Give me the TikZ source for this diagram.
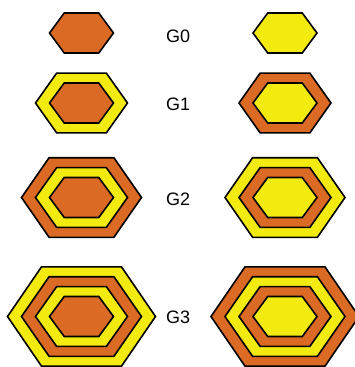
\documentclass[tikz,border=0pt]{standalone}
\usepackage{fontspec}
\setmainfont{Liberation Sans}
\definecolor{hexorange}{HTML}{DA6A24}
\definecolor{hexyellow}{HTML}{F3EB10}
\tikzset{
  hexline/.style={draw=black, line width=1.6pt, line join=miter},
  lab/.style={anchor=west, inner sep=0pt, font=\fontsize{18}{18}\selectfont}
}
\newcommand\hexring[4]{%
  \pgfmathsetmacro\hw{32+14*#3}%
  \pgfmathsetmacro\hh{20+9.9*#3}%
  \pgfmathsetmacro\ha{0.54*\hw}%
  \filldraw[fill=#4, hexline] (#1-\hw,#2) -- (#1-\ha,#2-\hh) -- (#1+\ha,#2-\hh)
    -- (#1+\hw,#2) -- (#1+\ha,#2+\hh) -- (#1-\ha,#2+\hh) -- cycle;
}
\begin{document}
\begin{tikzpicture}[x=1pt, y=-1pt]
\useasboundingbox (0,0) rectangle (354,367);
% G0
\hexring{81.5}{33}{0}{hexorange}
\hexring{285}{33}{0}{hexyellow}
% G1
\hexring{81.5}{103}{1}{hexyellow}
\hexring{81.5}{103}{0}{hexorange}
\hexring{285}{103}{1}{hexorange}
\hexring{285}{103}{0}{hexyellow}
% G2
\hexring{81.5}{197.5}{2}{hexorange}
\hexring{81.5}{197.5}{1}{hexyellow}
\hexring{81.5}{197.5}{0}{hexorange}
\hexring{285}{197.5}{2}{hexyellow}
\hexring{285}{197.5}{1}{hexorange}
\hexring{285}{197.5}{0}{hexyellow}
% G3
\hexring{81.5}{316.5}{3}{hexyellow}
\hexring{81.5}{316.5}{2}{hexorange}
\hexring{81.5}{316.5}{1}{hexyellow}
\hexring{81.5}{316.5}{0}{hexorange}
\hexring{285}{316.5}{3}{hexorange}
\hexring{285}{316.5}{2}{hexyellow}
\hexring{285}{316.5}{1}{hexorange}
\hexring{285}{316.5}{0}{hexyellow}
% labels
\node[lab] (g0) at (166,36) {G0};
\node[lab] (g1) at (166,104.7) {G1};
\node[lab] (g2) at (166,199) {G2};
\node[lab] (g3) at (166,317) {G3};
\end{tikzpicture}
\end{document}
